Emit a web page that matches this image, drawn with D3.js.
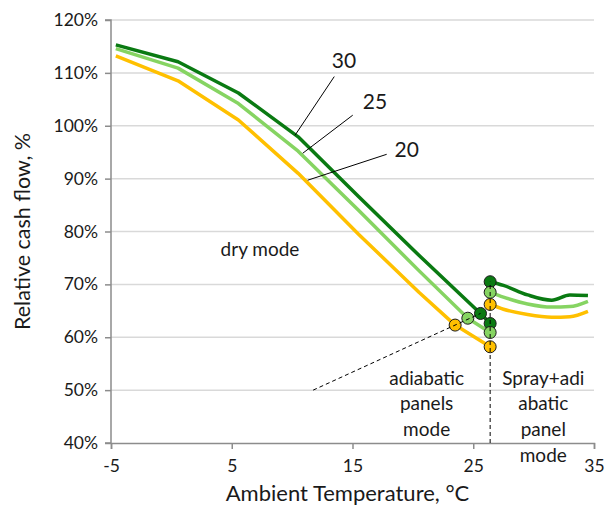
<!DOCTYPE html>
<html>
<head>
<meta charset="utf-8">
<script src="https://cdn.jsdelivr.net/npm/d3@7"></script>
<style>
  body { margin: 0; background: #fff; }
  svg text { font-family: Lato, "Noto Sans", sans-serif; fill: #1a1a1a; }
</style>
</head>
<body>
<div id="chart"></div>
<script>
// ambient temperature (°C) and relative cash flow (%)
const dryT30 = [-4.6, 0.55, 5.55, 10.5, 15.5, 20.5, 25.6, 26.4];
const dry30  = [115.3, 112.1, 106.2, 97.9, 86.6, 75.5, 64.5, 62.6];
const dryT25 = [-4.6, 0.55, 5.55, 10.5, 15.5, 20.5, 24.55, 26.4];
const dry25  = [114.6, 110.9, 104.2, 95.2, 84.0, 72.6, 63.6, 60.9];
const dryT20 = [-4.6, 0.55, 5.55, 10.5, 15.5, 20.5, 23.5, 26.4];
const dry20  = [113.2, 108.5, 101.1, 91.0, 79.5, 68.5, 62.3, 58.2];

const sprayT  = [26.4, 27.5, 29.5, 31.5, 33.0, 34.5];
const spray30 = [70.5, 69.8, 68.0, 67.0, 68.0, 67.9];
const spray25 = [68.5, 67.6, 66.3, 65.7, 65.8, 66.8];
const spray20 = [66.2, 65.3, 64.3, 63.8, 63.9, 64.9];

const seriesNames = ["30", "25", "20"];
const colors = ["#0a7a12", "#86d462", "#ffc000"];

// switch points: adiabatic on, spray on
const switchT = [25.6, 24.55, 23.5];
const switchV = [64.5, 63.6, 62.3];
const sprayOnT = 26.4;
const sprayOnLow  = [62.6, 60.9, 58.2];
const sprayOnHigh = [70.5, 68.5, 66.2];

const yTicks = [40, 50, 60, 70, 80, 90, 100, 110, 120];
const xTicks = [-5, 5, 15, 25, 35];

const W = 606, H = 506;
const margin = { top: 20, right: 12, bottom: 63, left: 111 };
const width = W - margin.left - margin.right;
const height = H - margin.top - margin.bottom;

const svg = d3.select("#chart").append("svg")
  .attr("width", W).attr("height", H);
const g = svg.append("g")
  .attr("transform", `translate(${margin.left},${margin.top})`);

const x = d3.scaleLinear().domain([-5, 35]).range([0, width]);
const y = d3.scaleLinear().domain([40, 120]).range([height, 0]);

// gridlines
g.append("g").selectAll("line")
  .data(yTicks.slice(1))
  .enter().append("line")
  .attr("x1", 0).attr("x2", width)
  .attr("y1", d => y(d)).attr("y2", d => y(d))
  .attr("stroke", "#d9d9d9").attr("stroke-width", 1.5);

// axes
const yAxis = g.append("g")
  .call(d3.axisLeft(y).tickValues(yTicks).tickFormat(d => d + "%").tickSize(6).tickPadding(7));
const xAxis = g.append("g")
  .attr("transform", `translate(0,${height})`)
  .call(d3.axisBottom(x).tickValues(xTicks).tickFormat(d => String(d)).tickSize(6).tickPadding(11));
[xAxis, yAxis].forEach(a => {
  a.select(".domain").attr("stroke", "#8c8c8c").attr("stroke-width", 1.5);
  a.selectAll(".tick line").attr("stroke", "#8c8c8c").attr("stroke-width", 1.5);
  a.selectAll(".tick text").style("font-size", "17.5px").attr("fill", "#1a1a1a");
});
yAxis.select(".domain").attr("d", `M-6,${height}H0V0H-6`);

// lines
const line = d3.line()
  .x(d => x(d[0])).y(d => y(d[1]));

const dry = [d3.zip(dryT30, dry30), d3.zip(dryT25, dry25), d3.zip(dryT20, dry20)];
const spray = [d3.zip(sprayT, spray30), d3.zip(sprayT, spray25), d3.zip(sprayT, spray20)];

g.selectAll(".dry").data(dry).enter().append("path")
  .attr("class", "dry")
  .attr("d", line)
  .attr("fill", "none")
  .attr("stroke", (d, i) => colors[i])
  .attr("stroke-width", 3.5)
  .attr("stroke-linejoin", "round");

g.selectAll(".spray").data(spray).enter().append("path")
  .attr("class", "spray")
  .attr("d", line.curve(d3.curveMonotoneX))
  .attr("fill", "none")
  .attr("stroke", (d, i) => colors[i])
  .attr("stroke-width", 3.5)
  .attr("stroke-linejoin", "round");

// markers
const markers = [];
seriesNames.forEach((s, i) => {
  markers.push({ t: switchT[i], v: switchV[i], c: colors[i] });
  markers.push({ t: sprayOnT, v: sprayOnLow[i], c: colors[i] });
  markers.push({ t: sprayOnT, v: sprayOnHigh[i], c: colors[i] });
});
g.selectAll(".mk").data(markers).enter().append("circle")
  .attr("class", "mk")
  .attr("cx", d => x(d.t)).attr("cy", d => y(d.v))
  .attr("r", 6)
  .attr("fill", d => d.c)
  .attr("stroke", "#1a1a1a").attr("stroke-width", 1);

// dashed guide lines
g.append("line")
  .attr("x1", x(11.74)).attr("y1", y(50))
  .attr("x2", x(switchT[0])).attr("y2", y(switchV[0]))
  .attr("stroke", "#000").attr("stroke-width", 1)
  .attr("stroke-dasharray", "4,3");
g.append("line")
  .attr("x1", x(sprayOnT)).attr("y1", y(40))
  .attr("x2", x(sprayOnT)).attr("y2", y(sprayOnHigh[0]))
  .attr("stroke", "#000").attr("stroke-width", 1)
  .attr("stroke-dasharray", "4,3");

// series labels with leaders
const labels = [
  { text: "30", t: 14.3, v: 112.3, from: [13.49, 109.3], to: [10.24, 98.2] },
  { text: "25", t: 16.86, v: 104.5, from: [15.02, 102.0], to: [10.88, 94.8] },
  { text: "20", t: 19.49, v: 95.4, from: [17.83, 94.6], to: [11.29, 89.7] }
];
labels.forEach(l => {
  g.append("line")
    .attr("x1", x(l.from[0])).attr("y1", y(l.from[1]))
    .attr("x2", x(l.to[0])).attr("y2", y(l.to[1]))
    .attr("stroke", "#000").attr("stroke-width", 1);
  g.append("text")
    .attr("x", x(l.t)).attr("y", y(l.v))
    .attr("dy", "0.35em")
    .attr("text-anchor", "middle")
    .style("font-size", "21px")
    .text(l.text);
});

// mode annotations
const notes = [
  { t: 7.34, v: 76.7, lines: ["dry mode"] },
  { t: 21.14, v: 52.3, lines: ["adiabatic", "panels", "mode"] },
  { t: 30.8, v: 52.3, lines: ["Spray+adi", "abatic", "panel", "mode"] }
];
notes.forEach(n => {
  const txt = g.append("text")
    .attr("x", x(n.t)).attr("y", y(n.v))
    .attr("text-anchor", "middle")
    .style("font-size", "19px");
  n.lines.forEach((s, k) => {
    txt.append("tspan")
      .attr("x", x(n.t))
      .attr("dy", k === 0 ? "0.35em" : "1.35em")
      .text(s);
  });
});

// axis titles
svg.append("text")
  .attr("x", margin.left + width / 2 - 5)
  .attr("y", H - 5)
  .attr("text-anchor", "middle")
  .style("font-size", "22px")
  .text("Ambient Temperature, °C");

svg.append("text")
  .attr("transform", `translate(30,${margin.top + height / 2}) rotate(-90)`)
  .attr("text-anchor", "middle")
  .style("font-size", "21.5px")
  .text("Relative cash flow, %");
</script>
</body>
</html>
